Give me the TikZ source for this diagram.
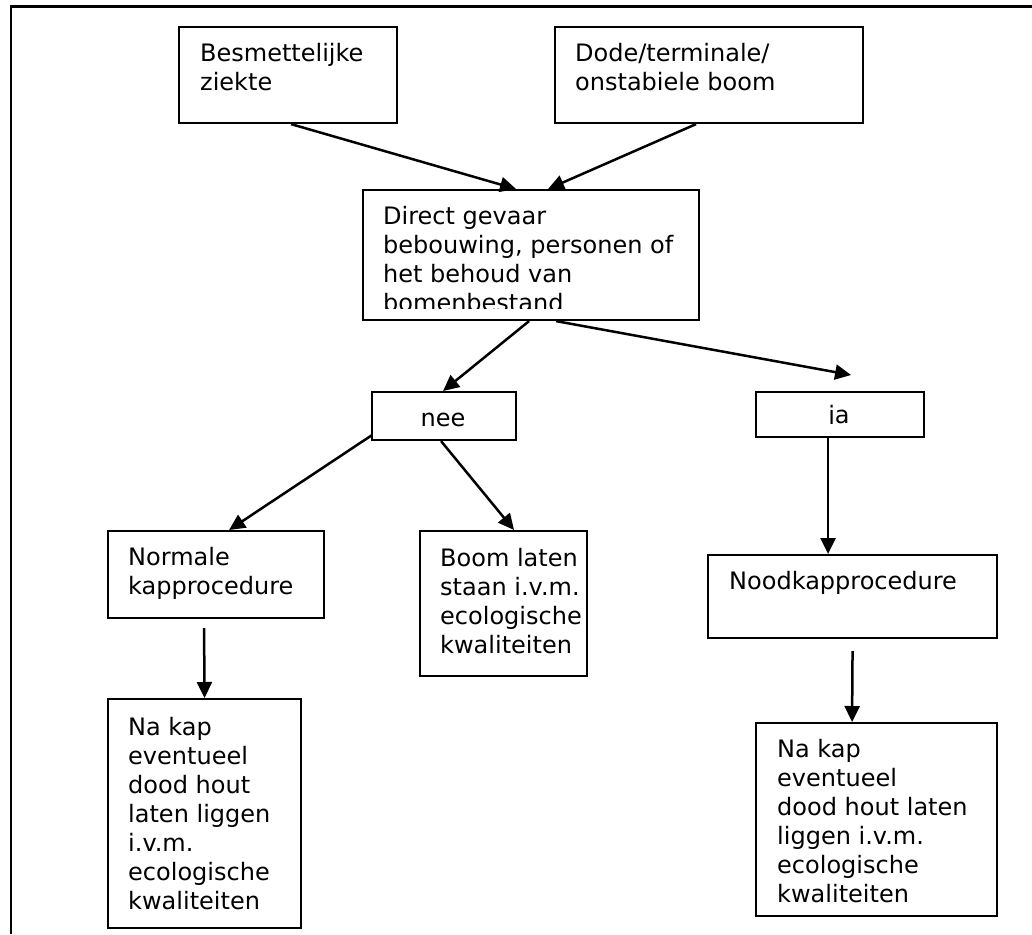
\documentclass[tikz,border=0pt]{standalone}
\usepackage{fontspec}
\setmainfont{DejaVu Sans}
\usetikzlibrary{arrows.meta,calc}
\begin{document}
\begin{tikzpicture}[x=1pt,y=-1pt,
  box/.style={draw=black, line width=2.1pt, rectangle, inner sep=0pt, anchor=north west},
  txt/.style={anchor=base west, inner sep=0pt, align=left, font=\fontsize{24pt}{29pt}\selectfont},
  ctxt/.style={anchor=base, inner sep=0pt, font=\fontsize{24pt}{29pt}\selectfont},
  arr/.style={line width=2.5pt, -{Triangle[length=16pt,width=15pt]}},
  frame/.style={line width=2.2pt}]
\useasboundingbox (0,0) rectangle (1032,934);
% outer frame
\draw[frame] (1032,6.5) -- (11,6.5) -- (11,934);
% boxes
\node[box, minimum width=218pt, minimum height=96pt] (besm) at (178,26) {};
\node[box, minimum width=308pt, minimum height=96pt] (dode) at (554,26) {};
\node[box, minimum width=336pt, minimum height=130pt] (direct) at (362,189) {};
\node[box, minimum width=144pt, minimum height=48pt] (nee) at (371,391) {};
\node[box, minimum width=168pt, minimum height=45pt] (ja) at (755,391) {};
\node[box, minimum width=216pt, minimum height=87pt] (normale) at (107,530) {};
\node[box, minimum width=167pt, minimum height=145pt] (boom) at (419,530) {};
\node[box, minimum width=289pt, minimum height=83pt] (nood) at (707,554) {};
\node[box, minimum width=193pt, minimum height=229pt] (nakapL) at (107,698) {};
\node[box, minimum width=241pt, minimum height=193pt] (nakapR) at (755,722) {};
% texts (base anchor = baseline of the last line)
\node[txt] (besmT) at (200,90) {Besmettelijke\\ziekte};
\node[txt] (dodeT) at (575,90) {Dode/terminale/\\onstabiele boom};
\begin{scope}
\clip (362,189) rectangle (698,308);
\node[txt] (directT) at (383,311) {Direct gevaar\\bebouwing, personen of\\het behoud van\\bomenbestand};
\end{scope}
\node[ctxt] (neeT) at (443,426) {nee};
\begin{scope}
\clip (755,391) rectangle (923,423.5);
\node[ctxt] (jaT) at (839,423) {ja};
\end{scope}
\node[txt] (normT) at (128,594) {Normale\\kapprocedure};
\node[txt] (boomT) at (440,653) {Boom laten\\staan i.v.m.\\ecologische\\kwaliteiten};
\node[txt] (noodT) at (729,589) {Noodkapprocedure};
\node[txt] (nakapLT) at (128,909) {Na kap\\eventueel\\dood hout\\laten liggen\\i.v.m.\\ecologische\\kwaliteiten};
\node[txt] (nakapRT) at (777,902) {Na kap\\eventueel\\dood hout laten\\liggen i.v.m.\\ecologische\\kwaliteiten};
% connectors
\draw[arr] ($(besm.south)+(3,0)$) -- ($(direct.north)+(-15,0)$);
\draw[arr] ($(dode.south)+(-13,0)$) -- ($(direct.north)+(17,0)$);
\draw[arr] ($(direct.south)+(-2,0)$) -- ($(nee.north)+(-1,0)$);
\draw[arr] ($(direct.south)+(25,0)$) -- ($(ja.north)+(11,-16)$);
\draw[arr] ($(nee.south west)+(1,-6)$) -- ($(normale.north)+(13,0)$);
\draw[arr] ($(nee.south)+(-3,0)$) -- ($(boom.north)+(10.5,0)$);
\draw[arr] ($(ja.south)+(-12,0)$) -- ($(nood.north)+(-24.5,0)$);
\draw[arr] ($(normale.south)+(-12,9)$) -- (nakapL.north);
\draw[arr] ($(nood.south)+(0,12)$) -- ($(nakapR.north)+(-24.5,0)$);
\end{tikzpicture}
\end{document}
